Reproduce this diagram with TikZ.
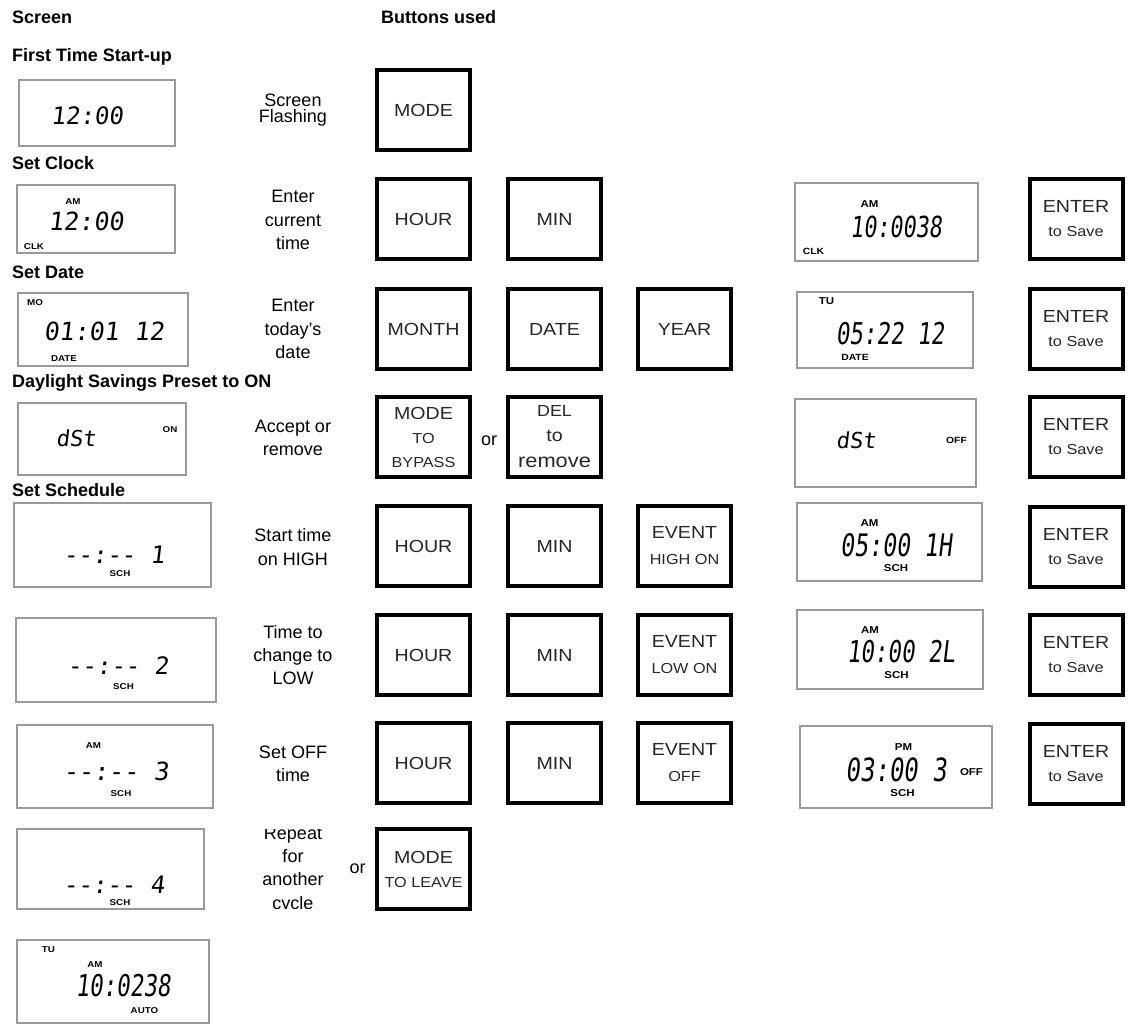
\documentclass[tikz,border=0pt]{standalone}
\usepackage{fontspec}
\setmainfont{Liberation Sans}
\newfontfamily\btnfont[FakeStretch=1.12]{Liberation Sans}
\newfontfamily\tagfont[FakeStretch=1.15]{Liberation Sans}
\newfontfamily\lcdwide[FakeSlant=0.12]{DejaVu Sans Mono}
\newfontfamily\lcdnarrow[FakeSlant=0.12,FakeStretch=0.75]{DejaVu Sans Mono}
\newcommand{\subsz}{\fontsize{14.5}{24}\selectfont}
\definecolor{lcdedge}{gray}{0.6}
\definecolor{btntext}{gray}{0.15}
\tikzset{
  hdr/.style={font=\bfseries\fontsize{18}{20}\selectfont, anchor=base west, inner sep=0pt},
  desc/.style={font=\fontsize{18}{23.3}\selectfont, align=center, inner sep=0pt},
  orlbl/.style={font=\fontsize{18}{20}\selectfont, anchor=base, inner sep=0pt},
  lcd/.style={draw=lcdedge, line width=1.3pt, inner sep=0pt},
  digits/.style={font=\lcdwide\fontsize{#1}{#1}\selectfont, inner sep=0pt},
  digitsn/.style={font=\lcdnarrow\fontsize{#1}{#1}\selectfont, inner sep=0pt},
  tag/.style={font=\tagfont\bfseries\fontsize{#1}{#1}\selectfont, inner sep=0pt},
  tag/.default=8.5,
  btn/.style={draw, line width=4pt, minimum width=93pt, minimum height=80pt, align=center,
    inner sep=0pt, text=btntext, font=\btnfont\fontsize{17.5}{24}\selectfont}
}
\begin{document}
\begin{tikzpicture}[x=1pt,y=-1pt]
    \useasboundingbox (0,0) rectangle (1130,1024);

    % Headings
    \node[hdr] (hScreen) at (12,23.3) {Screen};
    \node[hdr] (hButtons) at (381,23.3) {Buttons used};
    \node[hdr] (hStart) at (12,62) {First Time Start-up};
    \node[hdr] (hClock) at (12,170) {Set Clock};
    \node[hdr] (hDate) at (12,279) {Set Date};
    \node[hdr] (hDst) at (12,388) {Daylight Savings Preset to ON};
    \node[hdr] (hSched) at (12,496.7) {Set Schedule};

    % Screens on the left
    \node[lcd, minimum width=156pt, minimum height=66pt] (scrStart) at (97,113) {};
    \node[digits=24] (dgStart) at (87,116) {12:00};

    \node[lcd, minimum width=158pt, minimum height=68pt] (scrClock) at (96,219) {};
    \node[tag] (tgClockAM) at (73,202) {AM};
    \node[digits=25] (dgClock) at (86,221) {12:00};
    \node[tag] (tgClockCLK) at (34,247) {CLK};

    \node[lcd, minimum width=170pt, minimum height=73pt] (scrDate) at (103,329.5) {};
    \node[tag] (tgDateMO) at (35,303) {MO};
    \node[digits=25] (dgDate) at (104,331) {01:01 12};
    \node[tag] (tgDateDATE) at (64,358.5) {DATE};

    \node[lcd, minimum width=168pt, minimum height=72pt] (scrDst) at (102,439) {};
    \node[digits=22] (dgDst) at (76,438) {dSt};
    \node[tag] (tgDstON) at (170,430) {ON};

    \node[lcd, minimum width=197pt, minimum height=84pt] (scrHigh) at (112.5,545) {};
    \node[digits=24] (dgHigh) at (114,555) {-{}-:-{}- 1};
    \node[tag] (tgHighSCH) at (120,573.5) {SCH};

    \node[lcd, minimum width=200pt, minimum height=84pt] (scrLow) at (116,660) {};
    \node[digits=24] (dgLow) at (118,666) {-{}-:-{}- 2};
    \node[tag] (tgLowSCH) at (123.5,687) {SCH};

    \node[lcd, minimum width=196pt, minimum height=83pt] (scrOff) at (115,766.5) {};
    \node[tag] (tgOffAM) at (93.5,746) {AM};
    \node[digits=25] (dgOff) at (116,771) {-{}-:-{}- 3};
    \node[tag] (tgOffSCH) at (121,793.5) {SCH};

    \node[lcd, minimum width=187pt, minimum height=80pt] (scrNext) at (110.5,869) {};
    \node[digits=24] (dgNext) at (114,885) {-{}-:-{}- 4};
    \node[tag] (tgNextSCH) at (120,903) {SCH};

    \node[lcd, minimum width=192pt, minimum height=83pt] (scrAuto) at (113,981.5) {};
    \node[tag] (tgAutoTU) at (48.5,949.5) {TU};
    \node[tag] (tgAutoAM) at (95,965) {AM};
    \node[digitsn=30] (dgAuto) at (123,986) {10:0238};
    \node[tag] (tgAutoAUTO) at (144.5,1010.5) {AUTO};

    % What to do
    \node[desc, font=\fontsize{18}{16.5}\selectfont] (dsStart) at (293,110) {Screen\\Flashing};
    \node[desc] (dsClock) at (293,220) {Enter\\current\\time};
    \node[desc] (dsDate) at (293,329) {Enter\\today's\\date};
    \node[desc] (dsDst) at (293,438) {Accept or\\remove};
    \node[desc] (dsHigh) at (293,547) {Start time\\on HIGH};
    \node[desc] (dsLow) at (293,655) {Time to\\change to\\LOW};
    \node[desc] (dsOff) at (293,764) {Set OFF\\time};
    \begin{scope}
      \clip (240,829) rectangle (345,908);
      \node[desc] (dsNext) at (293,870) {Repeat\\for\\another\\cycle};
    \end{scope}

    % Buttons
    \node[btn] (bMode) at (423.5,110) {MODE};
    \node[btn] (hourClock) at (423.5,219.5) {HOUR};
    \node[btn] (minClock) at (554.5,219.5) {MIN};
    \node[btn] (bMonth) at (423.5,329) {MONTH};
    \node[btn] (bDate) at (554.5,329) {DATE};
    \node[btn] (bYear) at (684.5,329) {YEAR};
    \node[btn] (bBypass) at (423.5,437) {MODE\\{\subsz TO}\\{\subsz BYPASS}};
    \node[orlbl] (orDst) at (489,445) {or};
    \node[btn] (bDel) at (554.5,437) {{\fontsize{16}{24}\selectfont DEL}\\[1pt]to\\[2pt]{\fontsize{19.5}{24}\selectfont remove}};
    \foreach \y/\n in {546/High, 655/Low, 763/Off} {
        \node[btn] (hour\n) at (423.5,\y) {HOUR};
        \node[btn] (min\n) at (554.5,\y) {MIN};
    }
    \node[btn] (eventHigh) at (684.5,546) {EVENT\\[2pt]{\subsz HIGH ON}};
    \node[btn] (eventLow) at (684.5,655) {EVENT\\[2pt]{\subsz LOW ON}};
    \node[btn] (eventOff) at (684.5,763) {EVENT\\[2pt]{\subsz OFF}};
    \node[orlbl] (orNext) at (357.5,873) {or};
    \node[btn] (bLeave) at (423.5,869) {MODE\\{\subsz TO LEAVE}};

    % Screens after the change
    \node[lcd, minimum width=183pt, minimum height=78pt] (resClock) at (886.5,222) {};
    \node[tag=10] (tgResClockAM) at (869.5,204.5) {AM};
    \node[digitsn=29] (dgResClock) at (896,227) {10:0038};
    \node[tag=9] (tgResClockCLK) at (813.5,251) {CLK};

    \node[lcd, minimum width=176pt, minimum height=76pt] (resDate) at (885,330) {};
    \node[tag=10] (tgResDateTU) at (826.5,301.5) {TU};
    \node[digitsn=30] (dgResDate) at (890,334) {05:22 12};
    \node[tag=9] (tgResDateDATE) at (855,357.5) {DATE};

    \node[lcd, minimum width=181pt, minimum height=88pt] (resDst) at (885.5,443) {};
    \node[digits=22] (dgResDst) at (856,440) {dSt};
    \node[tag=9] (tgResDstOFF) at (956.5,440) {OFF};

    \node[lcd, minimum width=185pt, minimum height=78pt] (resHigh) at (889.5,542) {};
    \node[tag=10] (tgResHighAM) at (869.5,523) {AM};
    \node[digitsn=31] (dgResHigh) at (896,545.5) {05:00 1H};
    \node[tag=10] (tgResHighSCH) at (896,568) {SCH};

    \node[lcd, minimum width=186pt, minimum height=79pt] (resLow) at (890,649.5) {};
    \node[tag=10] (tgResLowAM) at (870,630) {AM};
    \node[digitsn=30] (dgResLow) at (901,652) {10:00 2L};
    \node[tag=10] (tgResLowSCH) at (896.5,675) {SCH};

    \node[lcd, minimum width=192pt, minimum height=82pt] (resOff) at (896,767) {};
    \node[tag=10] (tgResOffPM) at (903.5,747.5) {PM};
    \node[digitsn=32] (dgResOff) at (896,770) {03:00 3};
    \node[tag=10] (tgResOffOFF) at (971.5,772.5) {OFF};
    \node[tag=10] (tgResOffSCH) at (902.5,793.5) {SCH};

    % Save buttons
    \foreach \y/\n in {219/Clock, 329/Date, 437/Dst, 546.5/High, 654.5/Low, 763.5/Off} {
        \node[btn] (enter\n) at (1076,\y) {ENTER\\{\subsz to Save}};
    }

\end{tikzpicture}
\end{document}
